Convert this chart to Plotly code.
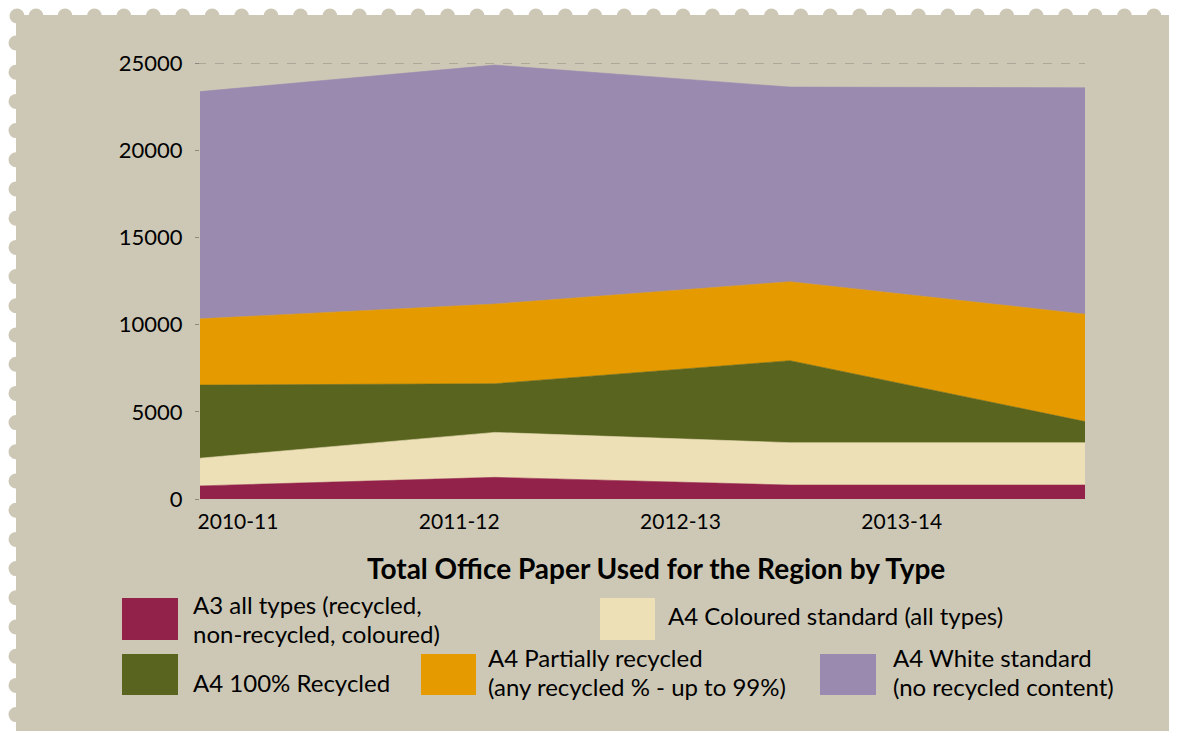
import plotly.graph_objects as go

# ---------------- data ----------------
years = ["2010-11", "2011-12", "2012-13", "2013-14"]
series_names = [
    "A3 all types (recycled,<br>non-recycled, coloured)",
    "A4 Coloured standard (all types)",
    "A4 100% Recycled",
    "A4 Partially recycled<br>(any recycled % - up to 99%)",
    "A4 White standard<br>(no recycled content)",
]
a3_all = [750, 1240, 800, 800]
a4_coloured = [1590, 2580, 2430, 2430]
a4_recycled100 = [4190, 2790, 4700, 1210]
a4_partial = [3800, 4570, 4530, 6160]
a4_white = [13030, 13700, 11160, 12980]
y_ticks = [0, 5000, 10000, 15000, 20000, 25000]

colors = ["#93224A", "#EDDFB6", "#59641E", "#E59A00", "#9A8AB0"]
BG = "#CDC8B6"
FONT = "Lato"

OFF = 8  # page body margin
W, H = 1177 - OFF, 739 - 2 * OFF
ML, MR, MT = 200 - OFF, 92, 63 - OFF
MB = H - (499 - OFF)
PW, PH = W - ML - MR, H - MT - MB


def px(x):
    return (x - OFF - ML) / PW


def py(y):
    return (H - MB - (y - OFF)) / PH


fig = go.Figure()
xs = list(range(len(years)))
for name, vals, col in zip(series_names,
                           [a3_all, a4_coloured, a4_recycled100, a4_partial, a4_white],
                           colors):
    fig.add_trace(go.Scatter(
        x=xs, y=vals, name=name, stackgroup="one", mode="lines",
        line=dict(width=0.6, color=col), fillcolor=col,
        hoverinfo="skip", showlegend=False))

shapes = []
annotations = []

# stamp border: white margins with beige scallops
shapes.append(dict(type="rect", xref="paper", yref="paper", layer="below",
                   x0=px(-10), x1=px(1250), y0=py(15), y1=py(-10),
                   fillcolor="white", line=dict(width=0)))
shapes.append(dict(type="rect", xref="paper", yref="paper", layer="below",
                   x0=px(-10), x1=px(16), y0=py(800), y1=py(-10),
                   fillcolor="white", line=dict(width=0)))
r = 7.5
top_x = [17, 36] + [65 + 29.43 * k for k in range(39)]
for cx in top_x:
    shapes.append(dict(type="circle", xref="paper", yref="paper", layer="below",
                       x0=px(cx - r), x1=px(cx + r), y0=py(16 - r), y1=py(16 + r),
                       fillcolor=BG, line=dict(width=0)))
for k in range(25):
    cy = 43 + 29.2 * k
    shapes.append(dict(type="circle", xref="paper", yref="paper", layer="below",
                       x0=px(16 - r), x1=px(16 + r), y0=py(cy - r), y1=py(cy + r),
                       fillcolor=BG, line=dict(width=0)))

# top dashed line at 25000
shapes.append(dict(type="line", xref="paper", yref="y", x0=px(197), x1=1,
                   y0=y_ticks[-1], y1=y_ticks[-1],
                   line=dict(color="#8a877c", width=1, dash="dash")))

# title
annotations.append(dict(text="<b>Total Office Paper Used for the Region by Type</b>",
                        xref="paper", yref="paper", x=px(656), y=py(568),
                        xanchor="center", yanchor="middle", showarrow=False,
                        font=dict(family=FONT, size=28, color="black", weight=900)))

# legend (boxes + labels); each label line placed separately
legend_pos = [
    # (box x0, box x1, box y0, box y1, text x, first line y)
    (122, 178, 598, 640, 193, 604),
    (600, 655, 598, 640, 668, 615),
    (122, 178, 654, 695, 193, 682),
    (421, 476, 654, 695, 488, 657),
    (820, 876, 654, 695, 893, 657),
]
LINE = 29
for (bx0, bx1, by0, by1, tx, ty), name, col in zip(legend_pos, series_names, colors):
    shapes.append(dict(type="rect", xref="paper", yref="paper",
                       x0=px(bx0), x1=px(bx1), y0=py(by1), y1=py(by0),
                       fillcolor=col, line=dict(width=0)))
    for i, line in enumerate(name.split("<br>")):
        annotations.append(dict(text=line, xref="paper", yref="paper",
                                x=px(tx - 2), y=py(ty + i * LINE),
                                xanchor="left", yanchor="middle",
                                align="left", showarrow=False,
                                font=dict(family=FONT, size=24, color="black")))

fig.update_layout(
    width=W, height=H,
    margin=dict(l=ML, r=MR, t=MT, b=MB, autoexpand=False),
    paper_bgcolor=BG, plot_bgcolor="rgba(0,0,0,0)",
    shapes=shapes, annotations=annotations, showlegend=False,
    font=dict(family=FONT, size=21, color="black"),
)
fig.update_xaxes(range=[0, len(years) - 1], tickmode="array",
                 tickvals=[i * (len(years) - 1) / len(years) for i in range(len(years))],
                 ticktext=years, ticklabelshift=38, ticklabelstandoff=8,
                 showgrid=False, zeroline=False, showline=False, ticks="",
                 tickfont=dict(family=FONT, size=21, color="black"))
fig.update_yaxes(range=[0, y_ticks[-1]], tickmode="array", tickvals=y_ticks,
                 ticktext=[str(v) for v in y_ticks],
                 showgrid=False, zeroline=False, showline=False,
                 ticks="outside", ticklen=4, tickcolor="#8a877c",
                 ticklabelstandoff=8,
                 tickfont=dict(family=FONT, size=22, color="black"))

fig.write_html("out.html")
